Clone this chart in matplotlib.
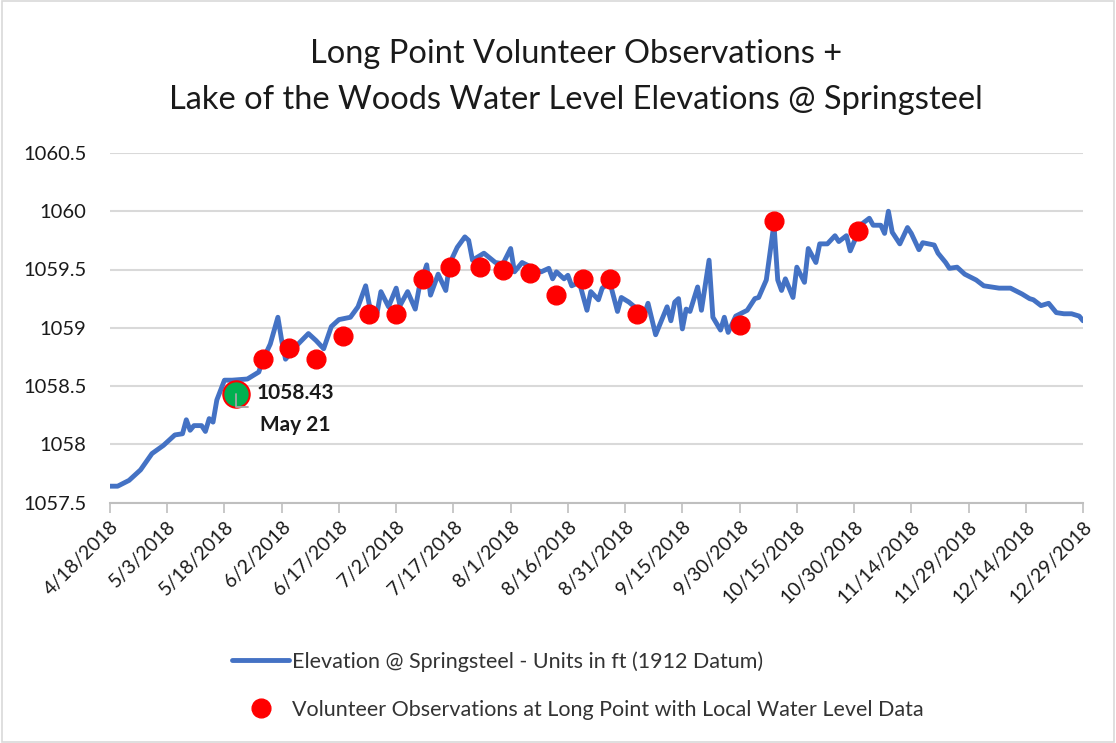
import matplotlib
matplotlib.use("Agg")
import matplotlib.pyplot as plt
from matplotlib.patches import Rectangle
import pandas as pd

plt.rcParams['font.family'] = ['Lato', 'DejaVu Sans']

# ---- data ----
line_dates = [
    "2018-04-18", "2018-04-20", "2018-04-23", "2018-04-26", "2018-04-29", "2018-05-02",
    "2018-05-05", "2018-05-07", "2018-05-08", "2018-05-09", "2018-05-10", "2018-05-12",
    "2018-05-13", "2018-05-14", "2018-05-15", "2018-05-16", "2018-05-18", "2018-05-20",
    "2018-05-24", "2018-05-27", "2018-05-28", "2018-05-30", "2018-06-01", "2018-06-02",
    "2018-06-03", "2018-06-06", "2018-06-09", "2018-06-11", "2018-06-13", "2018-06-15",
    "2018-06-17", "2018-06-20", "2018-06-22", "2018-06-24", "2018-06-25", "2018-06-27",
    "2018-06-28", "2018-06-30", "2018-07-02", "2018-07-03", "2018-07-05", "2018-07-07",
    "2018-07-08", "2018-07-10", "2018-07-11", "2018-07-13", "2018-07-15", "2018-07-16",
    "2018-07-18", "2018-07-20", "2018-07-21", "2018-07-22", "2018-07-25", "2018-07-28",
    "2018-07-30", "2018-08-01", "2018-08-02", "2018-08-04", "2018-08-07", "2018-08-09",
    "2018-08-11", "2018-08-12", "2018-08-13", "2018-08-15", "2018-08-16", "2018-08-17",
    "2018-08-19", "2018-08-21", "2018-08-22", "2018-08-24", "2018-08-25", "2018-08-27",
    "2018-08-29", "2018-08-30", "2018-09-01", "2018-09-05", "2018-09-06", "2018-09-08",
    "2018-09-09", "2018-09-11", "2018-09-12", "2018-09-13", "2018-09-14", "2018-09-15",
    "2018-09-16", "2018-09-17", "2018-09-19", "2018-09-20", "2018-09-22", "2018-09-23",
    "2018-09-25", "2018-09-26", "2018-09-27", "2018-09-29", "2018-10-02", "2018-10-04",
    "2018-10-05", "2018-10-07", "2018-10-09", "2018-10-10", "2018-10-11", "2018-10-12",
    "2018-10-14", "2018-10-15", "2018-10-17", "2018-10-18", "2018-10-20", "2018-10-21",
    "2018-10-23", "2018-10-25", "2018-10-26", "2018-10-28", "2018-10-29", "2018-11-01",
    "2018-11-03", "2018-11-04", "2018-11-06", "2018-11-07", "2018-11-08", "2018-11-09",
    "2018-11-11", "2018-11-13", "2018-11-14", "2018-11-16", "2018-11-17", "2018-11-20",
    "2018-11-21", "2018-11-23", "2018-11-24", "2018-11-26", "2018-11-28", "2018-12-01",
    "2018-12-03", "2018-12-07", "2018-12-10", "2018-12-13", "2018-12-15", "2018-12-16",
    "2018-12-18", "2018-12-20", "2018-12-22", "2018-12-24", "2018-12-26", "2018-12-28",
    "2018-12-29",
]
line_values = [
    1057.64, 1057.64, 1057.69, 1057.78, 1057.92, 1057.99,
    1058.08, 1058.09, 1058.21, 1058.12, 1058.16, 1058.16,
    1058.11, 1058.22, 1058.19, 1058.38, 1058.55, 1058.55,
    1058.56, 1058.62, 1058.72, 1058.86, 1059.09, 1058.89,
    1058.73, 1058.85, 1058.95, 1058.89, 1058.82, 1059.01,
    1059.07, 1059.09, 1059.18, 1059.36, 1059.19, 1059.13,
    1059.31, 1059.18, 1059.34, 1059.19, 1059.31, 1059.16,
    1059.34, 1059.54, 1059.28, 1059.46, 1059.32, 1059.55,
    1059.69, 1059.78, 1059.75, 1059.58, 1059.64, 1059.56,
    1059.55, 1059.68, 1059.48, 1059.56, 1059.51, 1059.48,
    1059.51, 1059.42, 1059.48, 1059.42, 1059.45, 1059.36,
    1059.39, 1059.15, 1059.31, 1059.24, 1059.34, 1059.39,
    1059.14, 1059.26, 1059.22, 1059.11, 1059.21, 1058.94,
    1059.02, 1059.18, 1059.06, 1059.22, 1059.25, 1058.99,
    1059.16, 1059.14, 1059.35, 1059.15, 1059.58, 1059.09,
    1058.98, 1059.09, 1058.96, 1059.10, 1059.15, 1059.25,
    1059.26, 1059.41, 1059.89, 1059.41, 1059.32, 1059.42,
    1059.26, 1059.52, 1059.39, 1059.68, 1059.56, 1059.72,
    1059.72, 1059.79, 1059.74, 1059.79, 1059.66, 1059.89,
    1059.94, 1059.88, 1059.88, 1059.81, 1060.00, 1059.82,
    1059.72, 1059.86, 1059.81, 1059.67, 1059.73, 1059.71,
    1059.64, 1059.56, 1059.51, 1059.52, 1059.46, 1059.41,
    1059.36, 1059.34, 1059.34, 1059.29, 1059.25, 1059.24,
    1059.19, 1059.21, 1059.13, 1059.12, 1059.12, 1059.10,
    1059.06,
]

obs_dates = [
    "2018-05-21", "2018-05-28", "2018-06-04", "2018-06-11", "2018-06-18", "2018-06-25",
    "2018-07-02", "2018-07-09", "2018-07-16", "2018-07-24", "2018-07-30", "2018-08-06",
    "2018-08-13", "2018-08-20", "2018-08-27", "2018-09-03", "2018-09-30", "2018-10-09",
    "2018-10-31",
]
obs_values = [
    1058.43, 1058.73, 1058.83, 1058.73, 1058.93, 1059.12,
    1059.12, 1059.42, 1059.52, 1059.52, 1059.50, 1059.47,
    1059.28, 1059.42, 1059.42, 1059.12, 1059.02, 1059.92,
    1059.83,
]

highlight_date = "2018-05-21"
highlight_value = 1058.43
highlight_label = "1058.43\nMay 21"

title_text = "Long Point Volunteer Observations +\nLake of the Woods Water Level Elevations @ Springsteel"
line_label = "Elevation @ Springsteel - Units in ft (1912 Datum)"
obs_label = "Volunteer Observations at Long Point with Local Water Level Data"
y_ticks = [1057.5, 1058, 1058.5, 1059, 1059.5, 1060, 1060.5]
x_start, x_end = "2018-04-18", "2018-12-29"

# ---- figure ----
fig = plt.figure(figsize=(11.16, 7.43), dpi=100)
fig.patch.set_facecolor("white")
fig.patches.append(Rectangle((0.002, 0.002), 0.996, 0.996, transform=fig.transFigure,
                             fill=False, edgecolor="#d9d9d9", linewidth=1.2))

ax = fig.add_axes([110 / 1116, 1 - 502.5 / 743, (1083 - 110) / 1116, (502.5 - 153) / 743])

ld = pd.to_datetime(line_dates)
od = pd.to_datetime(obs_dates)

ax.plot(ld, line_values, color="#4472C4", linewidth=3.5, solid_joinstyle="round",
        solid_capstyle="round", label=line_label, zorder=3)
ax.plot(od, obs_values, linestyle="none", marker="o", markersize=13.5,
        markerfacecolor="#FF0000", markeredgecolor="#FF0000", label=obs_label, zorder=4)

hd = pd.to_datetime(highlight_date)
ax.plot([hd], [highlight_value], linestyle="none", marker="o", markersize=19,
        markerfacecolor="#00B050", markeredgecolor="#FF0000", markeredgewidth=1.5, zorder=5)
# small leader line inside the highlighted point
ax.annotate("", xy=(hd, highlight_value), xytext=(9, -9), textcoords="offset points",
            arrowprops=dict(arrowstyle="-", color="#a6a6a6", lw=1.3, shrinkA=0, shrinkB=0,
                            connectionstyle="angle,angleA=0,angleB=90,rad=0"),
            zorder=6)
ax.annotate(highlight_label, xy=(hd, highlight_value), xytext=(43, -11),
            textcoords="offset points", fontsize=15, fontweight="bold", color="#1a1a1a",
            ha="center", va="center", linespacing=1.75, zorder=6)

ax.set_ylim(y_ticks[0], y_ticks[-1])
ax.set_yticks(y_ticks)
ax.set_yticklabels([f"{v:g}" for v in y_ticks])
ax.grid(axis="y", color="#d9d9d9", linewidth=1.5, zorder=0)
ax.set_axisbelow(True)

xs, xe = pd.to_datetime(x_start), pd.to_datetime(x_end)
ax.set_xlim(xs, xe)
xt = pd.date_range(xs, xe, freq="15D")
ax.set_xticks(xt)
ax.set_xticklabels([f"{d.month}/{d.day}/{d.year}" for d in xt], rotation=45,
                   ha="right", rotation_mode="anchor")

for s in ["top", "right", "left"]:
    ax.spines[s].set_visible(False)
ax.spines["bottom"].set_color("#bfbfbf")
ax.spines["bottom"].set_linewidth(1.5)
ax.tick_params(axis="x", length=7, width=1.2, color="#bfbfbf", labelsize=14,
               labelcolor="#1a1a1a", pad=4)
ax.tick_params(axis="y", length=0, labelsize=14.5, labelcolor="#1a1a1a", pad=17)

fig.text(0.516, 1 - 77 / 743, title_text, ha="center", va="center", fontsize=23.5,
         color="#1a1a1a", linespacing=1.7)

leg = fig.legend(loc="upper left", bbox_to_anchor=(232 / 1116, 1 - 651 / 743),
                 frameon=False, fontsize=15.5, handlelength=2.65, handletextpad=0.15,
                 labelspacing=1.3, borderpad=0, borderaxespad=0, labelcolor="#333333")

fig.savefig("out.png", dpi=100)
